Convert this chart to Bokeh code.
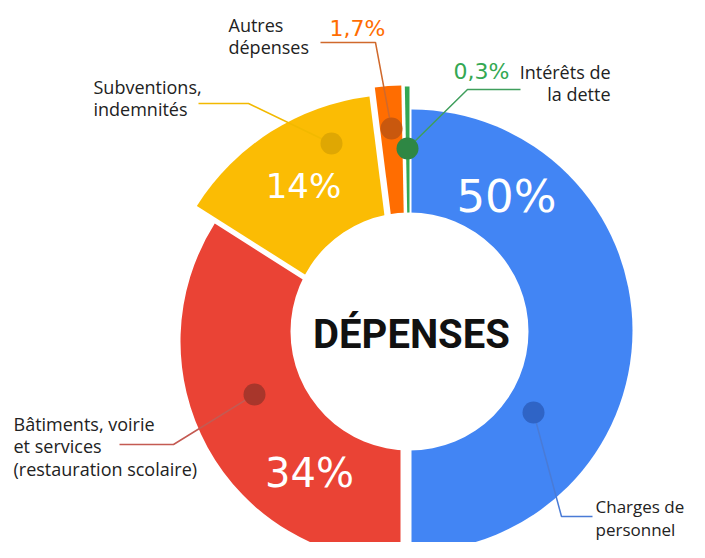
from bokeh.plotting import figure
from bokeh.models import Range1d, ColumnDataSource
from bokeh.core.properties import value
from bokeh.embed import file_html
from bokeh.resources import INLINE

# ---- data ----
categories = ["Charges de personnel",
              "Bâtiments, voirie et services (restauration scolaire)",
              "Subventions, indemnités",
              "Autres dépenses",
              "Intérêts de la dette"]
label_lines = [["Charges de", "personnel"],
               ["Bâtiments, voirie", "et services", "(restauration scolaire)"],
               ["Subventions,", "indemnités"],
               ["Autres", "dépenses"],
               ["Intérêts de", "la dette"]]
values = [50, 34, 14, 1.7, 0.3]
pct_labels = ["50%", "34%", "14%", "1,7%", "0,3%"]
colors = ["#4285f4", "#ea4335", "#fbbc04", "#ff6d01", "#34a853"]
dot_colors = ["#2f64c6", "#a8362b", "#dfa703", "#c9580e", "#2e8744"]
line_colors = ["#4a7bd6", "#c45a52", "#f2b900", "#d0692c", "#3f9e5c"]
center_title = "DÉPENSES"

# ---- layout (screen coordinates of the 705x558 page) ----
H = 558
BASE_SHIFT = 6  # compensates alphabetic-baseline placement
def sy(y):
    return H - y

slice_cx = [411, 400, 399, 405.5, 409]
slice_cy = [330, 341, 334, 334, 334]
slice_r = [221, 220, 240, 249, 248]
hole = (409, 331, 119)

# angles from data: start at top, clockwise
total = sum(values)
starts, ends = [], []
a = 90.0
for v in values:
    b = a - 360.0 * v / total
    starts.append(b)
    ends.append(a)
    a = b

p = figure(width=689, height=542, x_range=Range1d(0, 689), y_range=Range1d(16, 558),
           output_backend="svg", toolbar_location=None, min_border=0)
p.axis.visible = False
p.grid.visible = False
p.outline_line_color = None
p.background_fill_color = "white"

src = ColumnDataSource(dict(x=slice_cx, y=[sy(v) for v in slice_cy], r=slice_r,
                            s=starts, e=ends, c=colors, cat=categories))
p.wedge(x="x", y="y", radius="r", start_angle="s", end_angle="e",
        start_angle_units="deg", end_angle_units="deg",
        direction="anticlock", fill_color="c", line_color=None, source=src)

p.circle(x=[hole[0]], y=[sy(hole[1])], radius=hole[2], fill_color="white", line_color=None)

# percentage labels inside slices
pct_pos = [(506, 196, 45), (309, 472, 40), (303, 185, 34)]
for i, (x, y, fs) in enumerate(pct_pos):
    p.text(x=[x], y=[sy(y)], text=[pct_labels[i]], text_font=value("DejaVu Sans"),
           text_font_size=f"{fs}px", text_color="white", text_align="center",
           text_baseline="middle")

# small percentage labels outside
out_pct = {3: (329, 34, "left"), 4: (453, 77, "left")}
for i, (x, y, al) in out_pct.items():
    p.text(x=[x], y=[sy(y - BASE_SHIFT)], text=[pct_labels[i]], text_font=value("DejaVu Sans"),
           text_font_size="22px", text_color=colors[i], text_align=al,
           text_baseline="alphabetic")

# leader lines: dot -> elbow -> end
leaders = [
    [(533, 412), (561, 516), (592, 516)],
    [(254, 394), (173, 444), (119, 444)],
    [(331, 143), (248, 103), (198, 103)],
    [(391, 128), (375, 42), (320, 42)],
    [(407, 148), (467, 89), (520, 89)],
]
for i, pts in enumerate(leaders):
    p.line(x=[q[0] for q in pts], y=[sy(q[1]) for q in pts], line_color=line_colors[i],
           line_width=1.5)
    p.scatter(x=[pts[0][0]], y=[sy(pts[0][1])], size=22, fill_color=dot_colors[i],
              line_color=None)

# category labels
label_pos = [(595, 512, "left", 17), (13, 429, "left", 18), (93, 92, "left", 18),
             (228, 30, "left", 18), (610, 77, "right", 18)]
LH = 22.5
for i, (x, y, al, fs) in enumerate(label_pos):
    for k, ln in enumerate(label_lines[i]):
        p.text(x=[x], y=[sy(y + k * LH - BASE_SHIFT)], text=[ln], text_font=value("Open Sans"),
               text_font_size=f"{fs}px", text_color="#222222", text_align=al,
               text_baseline="alphabetic")

p.text(x=[411], y=[sy(334)], text=[center_title], text_font=value("Roboto"),
       text_font_style="bold", text_font_size="40px", text_color="#111111",
       text_align="center", text_baseline="middle")

open("out.html", "w").write(file_html(p, INLINE))
